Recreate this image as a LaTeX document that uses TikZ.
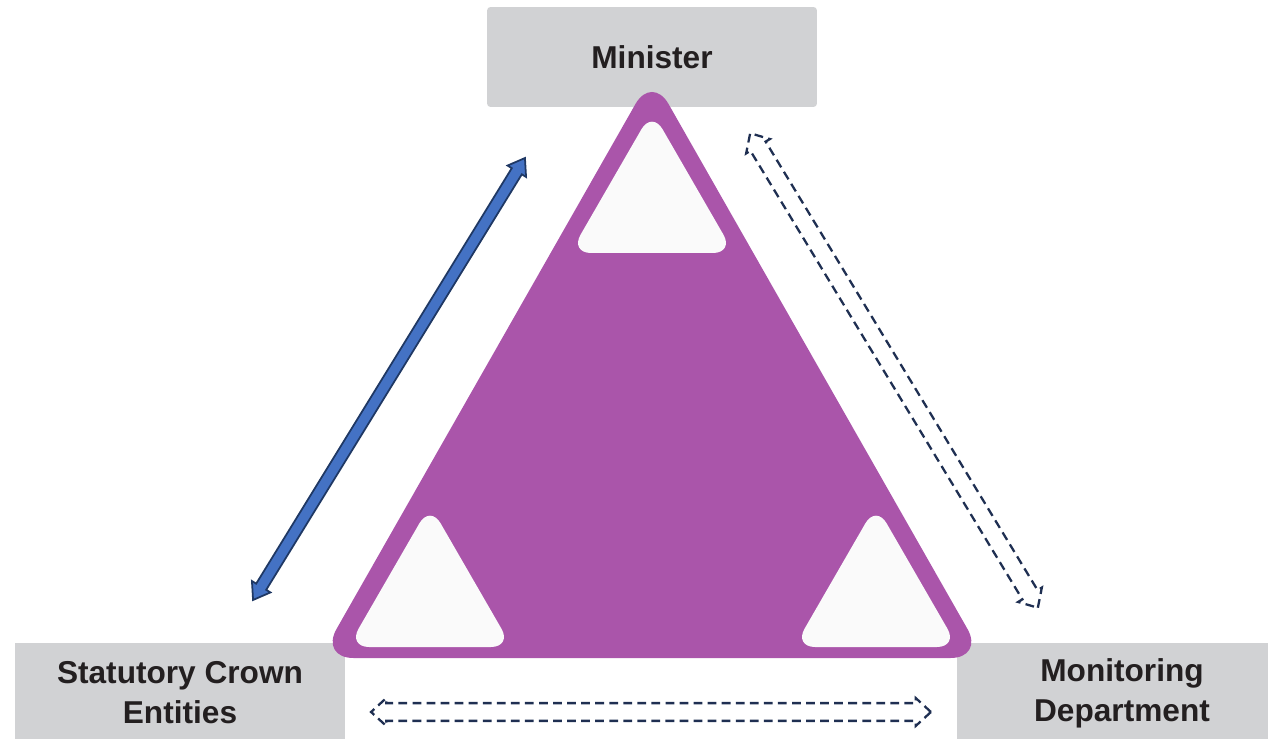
\documentclass[tikz,border=0pt]{standalone}
\usepackage{fontspec}
\setmainfont{Liberation Sans}
\usetikzlibrary{shapes.arrows}
\definecolor{boxgray}{HTML}{D1D2D4}
\definecolor{tripurple}{HTML}{AA55AA}
\definecolor{holewhite}{HTML}{FAFAFA}
\definecolor{linkblue}{HTML}{4472C4}
\definecolor{linknavy}{HTML}{1F3864}
\definecolor{dashnavy}{HTML}{1F2F52}
\definecolor{labelgray}{HTML}{231F20}

\begin{document}
\begin{tikzpicture}[x=0.02cm,y=-0.02cm]
\tikzstyle{box}=[fill=boxgray,minimum width=6.6cm,minimum height=2cm,align=center,text=labelgray,font=\fontsize{18}{22.7}\selectfont\bfseries,inner sep=0pt]
\tikzstyle{hole}=[fill=holewhite,rounded corners=12pt]
\tikzstyle{solidlink}=[double arrow,draw=linknavy,fill=linkblue,line width=1pt,inner xsep=0pt,inner ysep=0.1cm,minimum width=0pt,double arrow head extend=0.1cm,double arrow tip angle=70]
\tikzstyle{dashlink}=[double arrow,draw=dashnavy,line width=1.3pt,dash pattern=on 5pt off 3pt,inner xsep=0pt,inner ysep=0.155cm,minimum width=0pt,double arrow head extend=0.1cm,double arrow tip angle=85]
\useasboundingbox (0,0) rectangle (1268,739);
\clip (0,0) rectangle (1268,739);
% boxes
\node[box,rounded corners=2pt] (min) at (652,57) {Minister};
\node[box] (sce) at (180,693) {Statutory Crown\\Entities};
\node[box] (mon) at (1122,693) {Monitoring\\Department};
% triangle
\fill[tripurple,rounded corners=19pt] (652,658) -- (984,658) -- (652,75) -- (320,658) -- cycle;
\path[hole] (652,253) -- (734,253) -- (652,111) -- (570,253) -- cycle;
\path[hole] (430,647) -- (512,647) -- (430,505) -- (348,647) -- cycle;
\path[hole] (876,647) -- (958,647) -- (876,505) -- (794,647) -- cycle;
% links
\node[solidlink,minimum height=10.38cm,rotate=58.4] (sce-min) at (389,379) {};
\node[dashlink,minimum height=11.1cm,rotate=-58.77] (min-mon) at (894,370.5) {};
\node[dashlink,minimum height=11.2cm] (sce-mon) at (651,712) {};
\end{tikzpicture}
\end{document}
